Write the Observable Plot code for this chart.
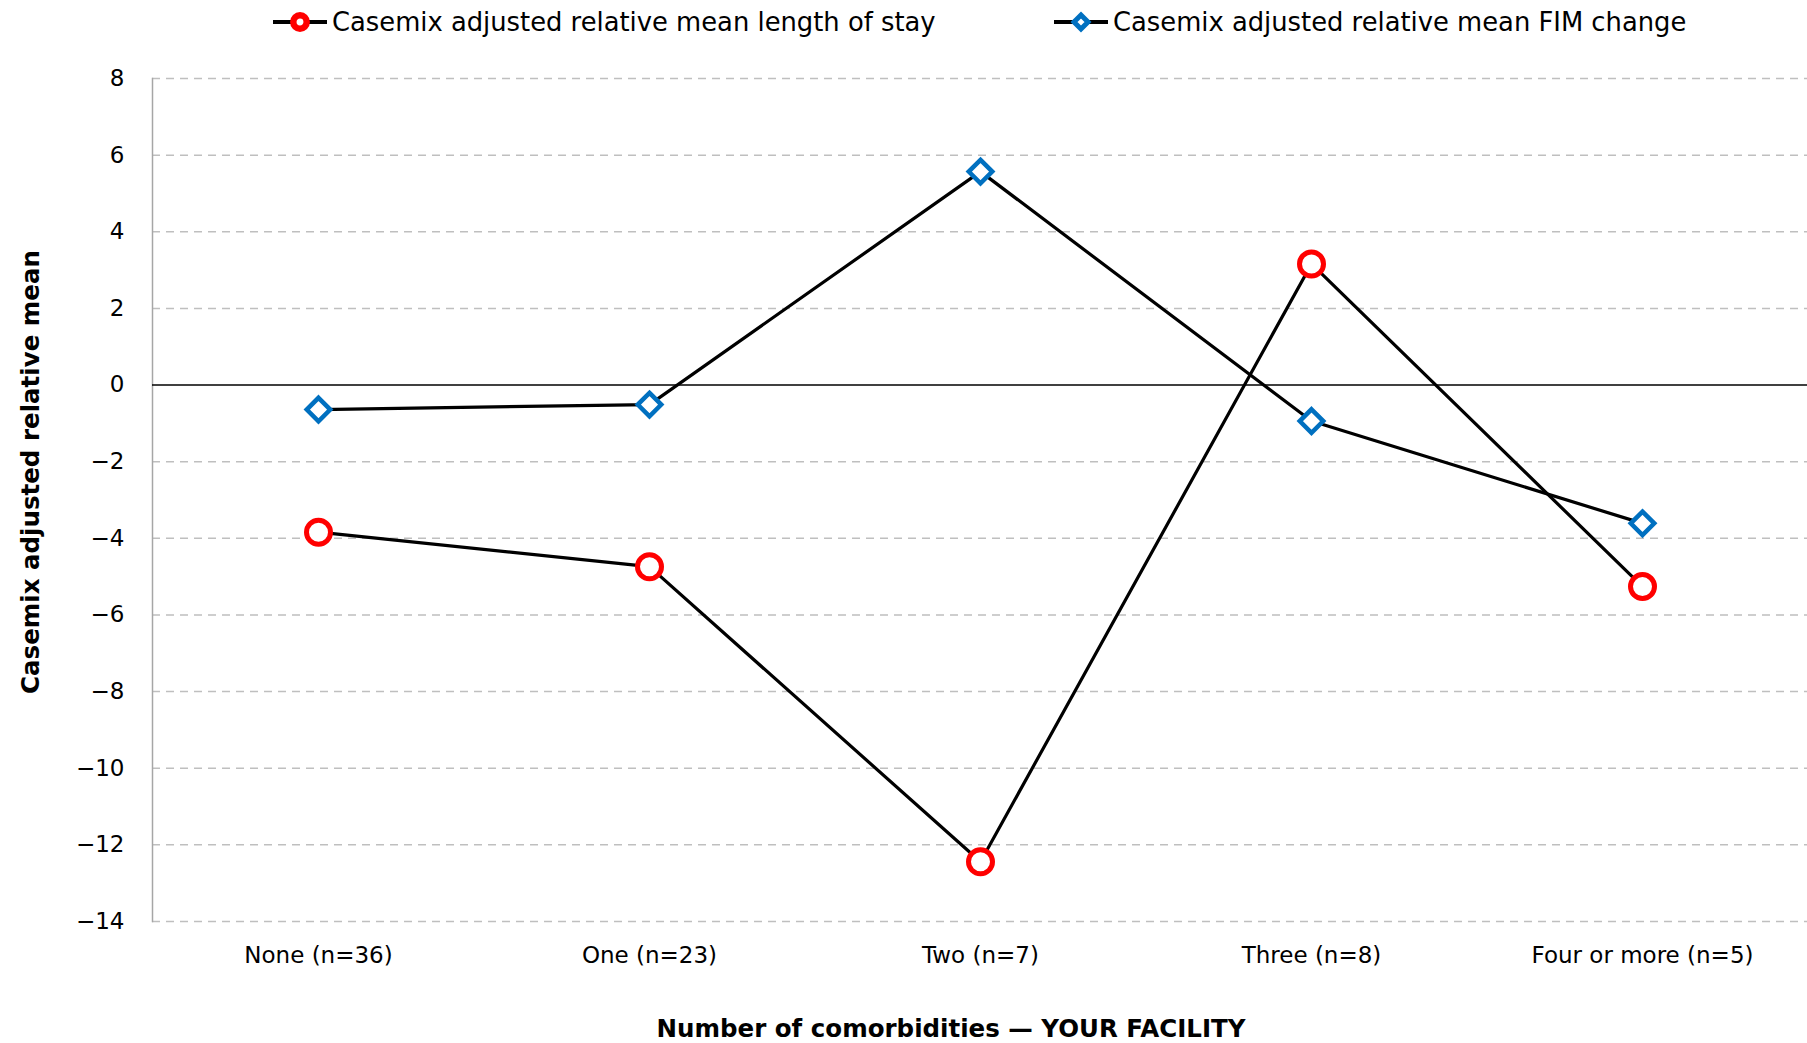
<!DOCTYPE html>
<html>
<head>
<meta charset="utf-8">
<script src="https://cdn.jsdelivr.net/npm/d3@7"></script>
<script src="https://cdn.jsdelivr.net/npm/@observablehq/plot@0.6"></script>
<style>
  html, body { margin: 0; padding: 0; background: white; }
  #legend, #legend svg { display: block; }
  #chart svg { display: block; }
</style>
</head>
<body>
<div id="legend"></div>
<div id="chart"></div>
<script>
const categories = ["None (n=36)", "One (n=23)", "Two (n=7)", "Three (n=8)", "Four or more (n=5)"];
const losValues = [-3.84, -4.74, -12.44, 3.16, -5.26];
const fimValues = [-0.64, -0.51, 5.57, -0.94, -3.61];
const yTicks = [8, 6, 4, 2, 0, -2, -4, -6, -8, -10, -12, -14];
const seriesNames = ["Casemix adjusted relative mean length of stay", "Casemix adjusted relative mean FIM change"];
const yTitle = "Casemix adjusted relative mean";
const xTitle = "Number of comorbidities — YOUR FACILITY";

const RED = "#FF0000", BLUE = "#0070C0";
const FONT = "'DejaVu Sans', sans-serif";

const data = categories.map((c, i) => ({cat: c, los: losValues[i], fim: fimValues[i]}));

// Legend (above the chart)
const legendH = 44;
const lg = d3.select("#legend").append("svg")
  .attr("width", 1807).attr("height", legendH)
  .style("font-family", FONT);
const items = [
  {name: seriesNames[0], x0: 273, sym: "circle", color: RED},
  {name: seriesNames[1], x0: 1054, sym: "diamond", color: BLUE}
];
items.forEach(it => {
  const g = lg.append("g").attr("transform", `translate(${it.x0},22)`);
  g.append("line").attr("x1", 0).attr("x2", 54).attr("y1", 0).attr("y2", 0)
    .attr("stroke", "black").attr("stroke-width", 4);
  if (it.sym === "circle") {
    g.append("circle").attr("cx", 27).attr("cy", 0).attr("r", 6.7)
      .attr("fill", "white").attr("stroke", it.color).attr("stroke-width", 6.5);
  } else {
    g.append("path").attr("d", "M27,-7 L34,0 L27,7 L20,0 Z")
      .attr("fill", "white").attr("stroke", it.color).attr("stroke-width", 5);
  }
  g.append("text").attr("x", 59).attr("y", 0).attr("dy", "0.35em")
    .attr("font-size", 25.8).attr("fill", "black").text(it.name);
});

const chart = Plot.plot({
  width: 1807,
  height: 999,
  marginTop: 34,
  marginBottom: 122,
  marginLeft: 152,
  marginRight: 0,
  style: {fontFamily: FONT, fontSize: "23px", color: "black", background: "white", overflow: "visible"},
  x: {type: "point", domain: categories, padding: 0.5, label: null},
  y: {domain: [-14, 8], label: null},
  marks: [
    Plot.ruleY(yTicks.filter(d => d !== 0), {stroke: "#bfbfbf", strokeWidth: 1.5, strokeDasharray: "8,6"}),
    Plot.frame({anchor: "left", stroke: "#a6a6a6", strokeWidth: 1.5}),
    Plot.ruleY([0], {stroke: "black", strokeWidth: 1.5}),
    Plot.line(data, {x: "cat", y: "los", stroke: "black", strokeWidth: 3.2}),
    Plot.line(data, {x: "cat", y: "fim", stroke: "black", strokeWidth: 3.2}),
    Plot.dot(data, {x: "cat", y: "los", r: 12, stroke: RED, strokeWidth: 5, fill: "white"}),
    Plot.dot(data, {x: "cat", y: "fim", symbol: "diamond2", r: 10.6, stroke: BLUE, strokeWidth: 4.5, fill: "white"}),
    Plot.axisX({tickSize: 0, tickPadding: 25.5, fontSize: 23, label: null}),
    Plot.axisY({ticks: yTicks, tickSize: 0, tickPadding: 28, fontSize: 23, label: null}),
    Plot.text([yTitle], {text: d => d, frameAnchor: "left", textAnchor: "middle", dx: -121, dy: -28, rotate: -90, fontWeight: "bold", fontSize: 24.5}),
    Plot.text([xTitle], {text: d => d, frameAnchor: "bottom", textAnchor: "middle", dx: -29, dy: 115, fontWeight: "bold", fontSize: 24.5})
  ]
});
document.getElementById("chart").appendChild(chart);
</script>
</body>
</html>
